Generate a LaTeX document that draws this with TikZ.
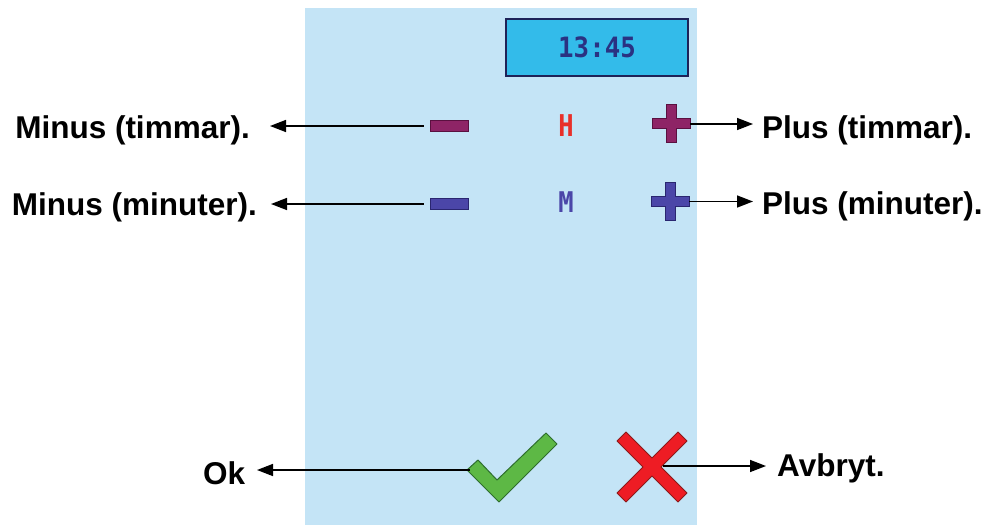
\documentclass[tikz,border=0pt]{standalone}
\usepackage{fontspec}
\setmainfont{Liberation Sans}
\newfontfamily\monofnt{DejaVu Sans Mono}
\usetikzlibrary{arrows.meta}
\definecolor{panelblue}{HTML}{C4E4F6}
\definecolor{boxfill}{HTML}{33BBEA}
\definecolor{boxline}{HTML}{1E2258}
\definecolor{boxtext}{HTML}{2A3282}
\definecolor{hfill}{HTML}{8E2466}
\definecolor{hline}{HTML}{5A1040}
\definecolor{hletter}{HTML}{E8302A}
\definecolor{mfill}{HTML}{4B46A8}
\definecolor{mline}{HTML}{2A2670}
\definecolor{okfill}{HTML}{5DB845}
\definecolor{okline}{HTML}{2E6E2E}
\definecolor{xfill}{HTML}{EE1C24}
\definecolor{xline}{HTML}{8B1A1A}
\tikzset{
  lbl/.style={inner sep=0pt, font=\fontsize{31.5}{36}\selectfont\bfseries},
  conn/.style={line width=1.5pt, -{Triangle[length=16pt,width=12pt]}},
  minusbox/.style={rectangle, minimum width=38pt, minimum height=11pt, inner sep=0pt, line width=1pt},
  letter/.style={inner sep=0pt, font=\monofnt\bfseries\fontsize{30}{32}\selectfont},
}
\begin{document}
\begin{tikzpicture}[x=1pt,y=-1pt]
\useasboundingbox (0,0) rectangle (987,525);
% panel
\fill[panelblue] (305,8) rectangle (697,525);
% time box
\node[draw=boxline, fill=boxfill, line width=1.3pt, minimum width=182pt, minimum height=57pt, inner sep=0pt,
      font=\monofnt\bfseries\fontsize{28}{30}\selectfont, text=boxtext] (time) at (597,47.5) {\scalebox{0.92}[1.0]{13:45}};
% hours row
\node[minusbox, draw=hline, fill=hfill] (minusH) at (449,126) {};
\node[letter, text=hletter] (H) at (566,126) {\scalebox{0.85}[1]{H}};
\draw[draw=hline, fill=hfill, line width=1pt] (652,118.5) -- ++(14,0) -- ++(0,-14) -- ++(10,0) -- ++(0,14) -- ++(14,0) -- ++(0,10) -- ++(-14,0) -- ++(0,14) -- ++(-10,0) -- ++(0,-14) -- ++(-14,0) -- cycle;
\coordinate (plusH) at (690,124);
% minutes row
\node[minusbox, draw=mline, fill=mfill] (minusM) at (449,204) {};
\node[letter, text=mfill] (M) at (566,202) {\scalebox{0.85}[0.95]{M}};
\draw[draw=mline, fill=mfill, line width=1pt] (651,196.5) -- ++(14,0) -- ++(0,-14) -- ++(10,0) -- ++(0,14) -- ++(14,0) -- ++(0,10) -- ++(-14,0) -- ++(0,14) -- ++(-10,0) -- ++(0,-14) -- ++(-14,0) -- cycle;
\coordinate (plusM) at (689,201.5);
% check mark
\draw[draw=okline, fill=okfill, line width=1pt, line join=round]
  (478,460) -- (497,480) -- (546,433) -- (557,444) -- (499,502) -- (467,470) -- cycle;
\coordinate (ok) at (470,470);
% cross
\draw[draw=xline, fill=xfill, line width=1pt, line join=round]
  (617,441) -- (626,432) -- (652,458) -- (678,432) -- (687,441) -- (661,467) -- (687,493) -- (678,502) -- (652,476) -- (626,502) -- (617,493) -- (643,467) -- cycle;
\coordinate (cancel) at (663,466);
% labels
\node[lbl, anchor=base east] (lMH) at (250,138) {Minus (timmar).};
\node[lbl, anchor=base east] (lMM) at (257,215) {Minus (minuter).};
\node[lbl, anchor=base west] (lPH) at (762,138) {Plus (timmar).};
\node[lbl, anchor=base west] (lPM) at (762,214) {Plus (minuter).};
\node[lbl, anchor=base west] (lOk) at (203,484) {Ok};
\node[lbl, anchor=base west] (lAv) at (777,476) {Avbryt.};
% tips
\coordinate (tMH) at (270,126);
\coordinate (tMM) at (271,204);
\coordinate (tPH) at (753,124);
\coordinate (tPM) at (753,201.5);
\coordinate (tOk) at (257,470);
\coordinate (tAv) at (766,466);
% connectors
\draw[conn, shorten <=6pt] (minusH.west) -- (tMH);
\draw[conn, shorten <=6pt] (minusM.west) -- (tMM);
\draw[conn] (plusH) -- (tPH);
\draw[conn] (plusM) -- (tPM);
\draw[conn] (ok) -- (tOk);
\draw[conn] (cancel) -- (tAv);
\end{tikzpicture}
\end{document}
